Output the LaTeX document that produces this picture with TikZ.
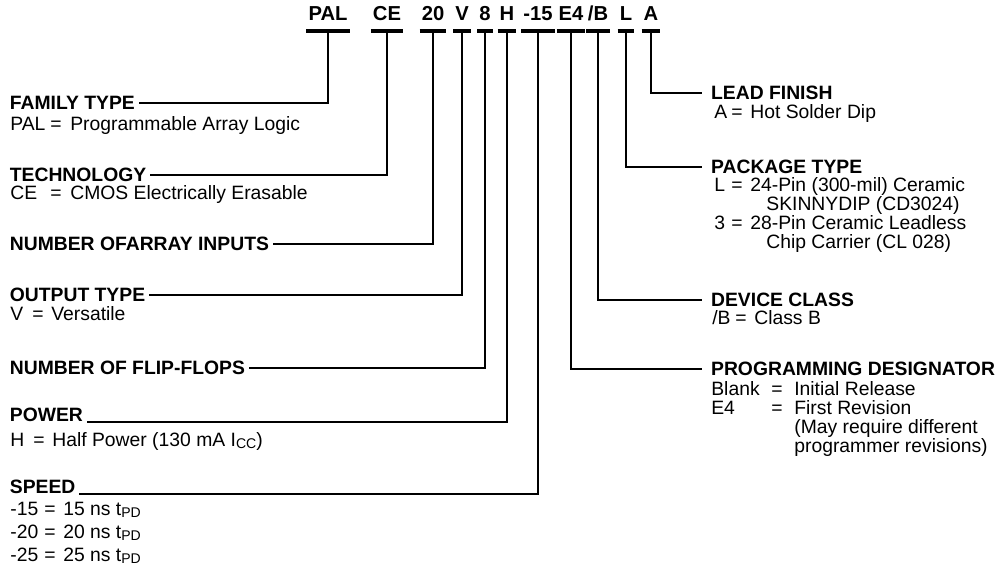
\documentclass[tikz,border=0pt]{standalone}
\usepackage{fontspec}
\setmainfont{Liberation Sans}
\newcommand{\lsub}[1]{\raisebox{-0.2ex}{\footnotesize #1}}
\newcommand{\kv}[4]{\makebox[#1][l]{#2}\makebox[#3][l]{=}#4}
\tikzset{
    code/.style={anchor=south, font=\fontsize{11.5}{13}\selectfont\bfseries,
        inner xsep=1pt, inner ysep=5.5pt, text depth=0pt},
    head/.style={anchor=west, font=\fontsize{11}{13}\selectfont\bfseries,
        inner xsep=2pt, inner ysep=0pt, text height=7.9pt, text depth=0pt},
    headr/.style={head, inner xsep=5pt},
    body/.style={anchor=base west, font=\fontsize{11}{13}\selectfont,
        inner sep=0pt}
}
\tikzset{
    bar/.style={line width=2.2pt},
    lead/.style={line width=1.5pt}
}

\begin{document}
\begin{tikzpicture}[x=0.02cm, y=-0.02cm]
  \useasboundingbox (0,0) rectangle (1001,568);

  % part number
  \node[code] (hpal) at (328,31) {PAL};
  \node[code] (hce) at (387,31) {CE};
  \node[code] (h20) at (433,31) {20};
  \node[code] (hv) at (462,31) {V};
  \node[code] (h8) at (485,31) {8};
  \node[code] (hh) at (507,31) {H};
  \node[code] (h15) at (538,31) {-15};
  \node[code] (he4) at (571,31) {E4};
  \node[code] (hb) at (598,31) {/B};
  \node[code] (hl) at (626,31) {L};
  \node[code] (ha) at (651,31) {A};
  \foreach \n in {hpal,hce,h20,hv,h8,hh,h15,he4,hb,hl,ha}
    \draw[bar] (\n.south west) -- (\n.south east);

  % left column
  \node[head] (fam) at (6,103) {FAMILY TYPE};
  \node[body] (fam1) at (10,130) {\kv{0.80cm}{PAL}{0.40cm}{Programmable Array Logic}};
  \node[head] (tech) at (6,175) {TECHNOLOGY};
  \node[body] (tech1) at (10,199) {\kv{0.80cm}{CE}{0.40cm}{CMOS Electrically Erasable}};
  \node[head] (ninp) at (6,244) {NUMBER OFARRAY INPUTS};
  \node[head] (outp) at (6,295) {OUTPUT TYPE};
  \node[body] (outp1) at (10,320) {\kv{0.44cm}{V}{0.38cm}{Versatile}};
  \node[head] (nff) at (6,368) {NUMBER OF FLIP-FLOPS};
  \node[head] (pow) at (6,415) {POWER};
  \node[body] (pow1) at (10,446) {\kv{0.46cm}{H}{0.38cm}{Half Power (130 mA I\lsub{CC})}};
  \node[head] (spd) at (6,487) {SPEED};
  \node[body] (spd1) at (10,515) {\kv{0.68cm}{-15}{0.38cm}{15 ns t\lsub{PD}}};
  \node[body] (spd2) at (10,538) {\kv{0.68cm}{-20}{0.38cm}{20 ns t\lsub{PD}}};
  \node[body] (spd3) at (10,561) {\kv{0.68cm}{-25}{0.38cm}{25 ns t\lsub{PD}}};

  % right column
  \node[headr] (fin) at (702,93) {LEAD FINISH};
  \node[body] (fin1) at (714,118) {\kv{0.34cm}{A}{0.38cm}{Hot Solder Dip}};
  \node[headr] (pkg) at (702,167) {PACKAGE TYPE};
  \node[body] (pkg1) at (714,191) {\kv{0.34cm}{L}{0.38cm}{24-Pin (300-mil) Ceramic}};
  \node[body] (pkg2) at (766,210) {SKINNYDIP (CD3024)};
  \node[body] (pkg3) at (714,229) {\kv{0.34cm}{3}{0.38cm}{28-Pin Ceramic Leadless}};
  \node[body] (pkg4) at (766,248) {Chip Carrier (CL 028)};
  \node[headr] (cls) at (702,300) {DEVICE CLASS};
  \node[body] (cls1) at (712,324) {\kv{0.46cm}{/B}{0.38cm}{Class B}};
  \node[headr] (pgm) at (702,369) {PROGRAMMING DESIGNATOR};
  \node[body] (pgm1) at (711,395) {\kv{1.20cm}{Blank}{0.46cm}{Initial Release}};
  \node[body] (pgm2) at (711,414) {\kv{1.20cm}{E4}{0.46cm}{First Revision}};
  \node[body] (pgm3) at (794,433) {(May require different};
  \node[body] (pgm4) at (794,452) {programmer revisions)};

  % leads
  \draw[lead] (hpal.south) |- (fam.east);
  \draw[lead] (hce.south) |- (tech.east);
  \draw[lead] (h20.south) |- (ninp.east);
  \draw[lead] (hv.south) |- (outp.east);
  \draw[lead] (h8.south) |- (nff.east);
  \draw[lead] (hh.south) |- (pow.base east);
  \draw[lead] (h15.south) |- (spd.base east);
  \draw[lead] (he4.south) |- (pgm.west);
  \draw[lead] (hb.south) |- (cls.west);
  \draw[lead] (hl.south) |- (pkg.west);
  \draw[lead] (ha.south) |- (fin.west);
\end{tikzpicture}
\end{document}
